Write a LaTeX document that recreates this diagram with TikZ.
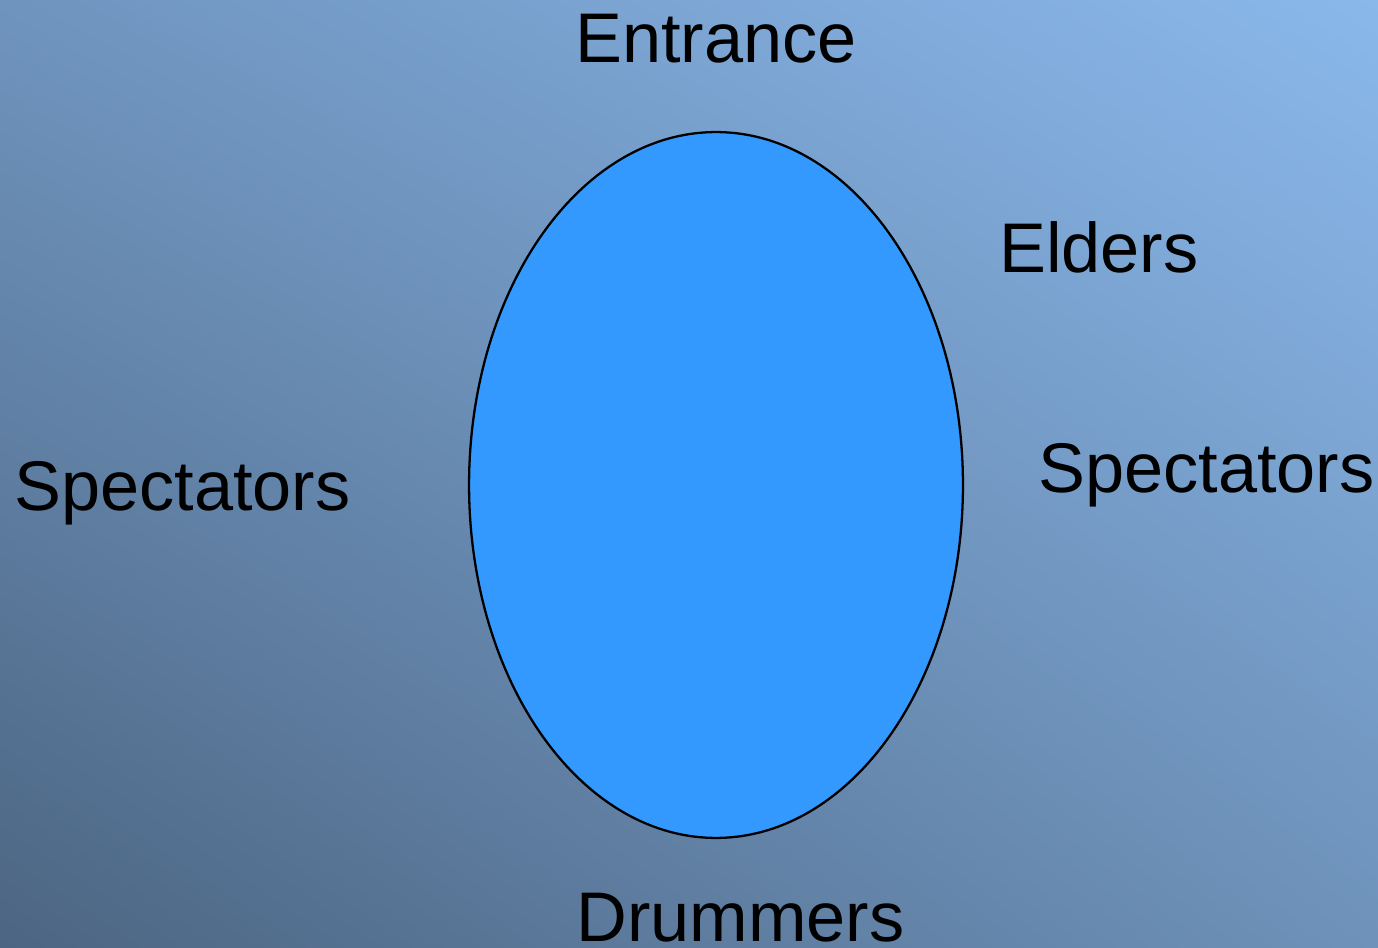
\documentclass[tikz,border=0pt]{standalone}
\usepackage{fontspec}
\setmainfont{Liberation Sans}
\usetikzlibrary{shapes.geometric, shadings}
\definecolor{bgTL}{RGB}{111,148,190}
\definecolor{bgTR}{RGB}{138,184,235}
\definecolor{bgBL}{RGB}{76,101,130}
\definecolor{bgBR}{RGB}{110,146,186}
\definecolor{ringblue}{RGB}{51,153,255}
\tikzset{
    place/.style={anchor=base west, inner sep=0pt, font=\fontsize{40}{48}\selectfont},
}

\begin{document}
\begin{tikzpicture}[x=0.02cm, y=0.02cm]
    % Background
    \shade[upper left=bgTL, upper right=bgTR, lower left=bgBL, lower right=bgBR]
        (0, 0) rectangle (1378, 947);
    \useasboundingbox (0, 0) rectangle (1378, 947);
    % Dance ring
    \node[ellipse, draw=black, line width=1.3pt, fill=ringblue, inner sep=0pt,
          minimum width=9.88cm, minimum height=14.12cm] (ring) at (716, 462) {};
    % Labels round the ring
    \node[place] (entrance) at (575, 884) {Entrance};
    \node[place] (elders)   at (999, 674) {Elders};
    \node[place] (specL)    at (14,  437) {Spectators};
    \node[place] (specR)    at (1038, 454) {Spectators};
    \node[place] (drummers) at (576, 6)   {Drummers};
\end{tikzpicture}
\end{document}
